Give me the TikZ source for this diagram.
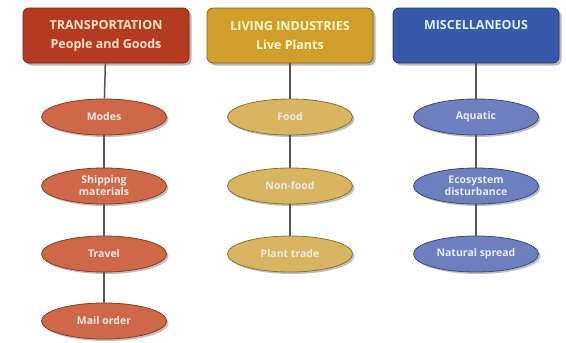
\documentclass[tikz,border=0pt]{standalone}
\usepackage{fontspec}
\setmainfont{Open Sans}
\usepackage{tikz}
\usetikzlibrary{shapes, shadows}
\definecolor{transred}{HTML}{B43A20}
\definecolor{transline}{HTML}{7A2512}
\definecolor{livegold}{HTML}{D19E2B}
\definecolor{liveline}{HTML}{8A6418}
\definecolor{miscblue}{HTML}{3659A8}
\definecolor{miscline}{HTML}{203A78}
\definecolor{leafred}{HTML}{CF6848}
\definecolor{leafredline}{HTML}{8A3A22}
\definecolor{leafgold}{HTML}{D8B661}
\definecolor{leafgoldline}{HTML}{8E7130}
\definecolor{leafblue}{HTML}{6E7FBF}
\definecolor{leafblueline}{HTML}{3A4A80}
\definecolor{linkgray}{HTML}{555555}

\begin{document}
\begin{tikzpicture}[x=1pt,y=-1pt]
\tikzstyle{every node}+=[inner sep=0pt, font=\bfseries, align=center]
\tikzstyle{headbox}=[rectangle, rounded corners=6pt, minimum width=166pt, minimum height=55pt, line width=0.8pt, font=\bfseries\fontsize{12.5}{19}\selectfont, drop shadow={opacity=0.55, shadow xshift=2.5pt, shadow yshift=-2.5pt}]
\tikzstyle{leaf}=[ellipse, minimum width=125pt, minimum height=36pt, line width=0.8pt, text=white!92!black, font=\bfseries\fontsize{10.5}{12}\selectfont, drop shadow={opacity=0.5, shadow xshift=2pt, shadow yshift=-2pt}]
\tikzstyle{link}=[draw=linkgray, line width=1.5pt]
\useasboundingbox [fill=white] (0,0) rectangle (566,343);
% category boxes
\node [headbox, fill=transred, draw=transline, text={white!80!orange}] (Transport) at (106,35.5) {TRANSPORTATION\\People and Goods};
\node [headbox, fill=livegold, draw=liveline, text={white!80!yellow}] (Living) at (290,35.5) {LIVING INDUSTRIES\\Live Plants};
\node [headbox, fill=miscblue, draw=miscline, text={white!85!cyan}] (Misc) at (476,35.5) {MISCELLANEOUS\\\phantom{Xg}};
% transportation
\node [leaf, fill=leafred, draw=leafredline] (Modes) at (104,117) {Modes};
\node [leaf, fill=leafred, draw=leafredline] (Shipping) at (104,186) {Shipping\\materials};
\node [leaf, fill=leafred, draw=leafredline] (Travel) at (104,254) {Travel};
\node [leaf, fill=leafred, draw=leafredline] (Mail) at (104,321) {Mail order};
% living industries
\node [leaf, fill=leafgold, draw=leafgoldline] (Food) at (290,117) {Food};
\node [leaf, fill=leafgold, draw=leafgoldline] (Nonfood) at (290,186) {Non-food};
\node [leaf, fill=leafgold, draw=leafgoldline] (Plant) at (290,254) {Plant trade};
% miscellaneous
\node [leaf, fill=leafblue, draw=leafblueline] (Aquatic) at (476,117) {Aquatic};
\node [leaf, fill=leafblue, draw=leafblueline] (Ecosystem) at (476,186) {Ecosystem\\disturbance};
\node [leaf, fill=leafblue, draw=leafblueline] (Natural) at (476,254) {Natural spread};
% links
\draw [link] (Transport) -- (Modes);
\draw [link] (Modes) -- (Shipping);
\draw [link] (Shipping) -- (Travel);
\draw [link] (Travel) -- (Mail);
\draw [link] (Living) -- (Food);
\draw [link] (Food) -- (Nonfood);
\draw [link] (Nonfood) -- (Plant);
\draw [link] (Misc) -- (Aquatic);
\draw [link] (Aquatic) -- (Ecosystem);
\draw [link] (Ecosystem) -- (Natural);
\end{tikzpicture}
\end{document}
